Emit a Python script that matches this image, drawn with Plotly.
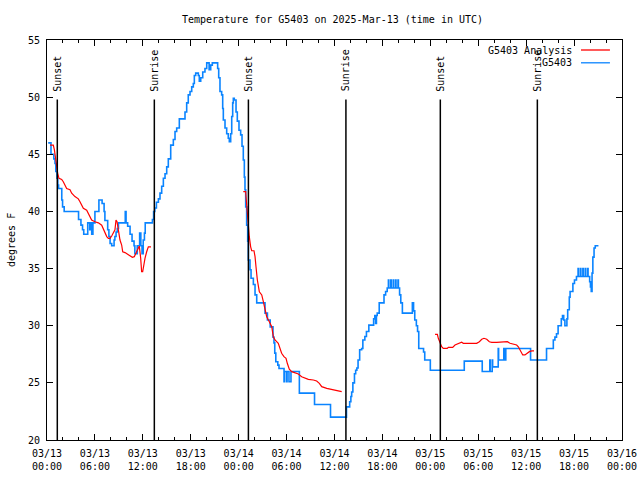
import pandas as pd
import plotly.graph_objects as go

BASE = pd.Timestamp("2025-03-13 00:00")

# G5403 observations: hours since 03/13 00:00 UTC, degrees F
obs_hours = [0.15, 0.5, 0.85, 1.0, 1.1, 1.25, 1.35, 1.45, 1.85, 1.95, 2.15, 3.95, 4.25, 4.45, 4.6, 5.1, 5.35, 5.5, 5.6, 5.75,
             6.0, 6.5, 6.9, 7.15, 7.25, 7.6, 7.75, 7.9, 8.1, 8.4, 8.5, 8.65, 8.8, 8.95, 9.8, 9.9, 10.1, 10.4, 10.65, 10.9,
             11.0, 11.3, 11.6, 11.75, 11.9, 12.05, 12.2, 12.3, 13.2, 13.35, 13.5, 13.7, 13.95, 14.15, 14.36, 14.57, 14.78,
             14.99, 15.19, 15.49, 15.82, 16.03, 16.24, 16.57, 17.28, 17.49, 17.69, 17.91, 18.12, 18.32, 18.45, 18.62,
             18.95, 19.07, 19.25, 19.5, 19.78, 20.0, 20.3, 20.5, 20.7, 21.37, 21.5, 21.66, 21.87, 22.0, 22.08, 22.29,
             22.5, 22.7, 22.83, 23.0, 23.13, 23.25, 23.33, 23.45, 23.67, 23.83, 24.04, 24.25, 24.42, 24.58, 24.71, 24.79,
             24.88, 25.0, 25.13, 25.21, 25.42, 25.55, 25.84, 26.05, 26.26, 27.3, 27.6, 27.95, 28.3, 28.42, 28.52, 28.65,
             28.9, 29.05, 29.68, 29.74, 30.0, 30.06, 30.3, 30.55, 31.6, 33.5, 35.5, 37.5, 37.9, 38.05,
             38.15, 38.3, 38.5, 38.65, 38.8, 38.95, 39.15, 39.4, 39.55, 39.8, 40.0, 40.3, 40.9, 41.05, 41.15, 41.25,
             41.35, 41.6, 42.2, 42.4, 42.6, 42.75, 42.8, 43.05, 43.1, 43.35, 43.4, 43.65, 43.7, 43.95, 44.0,
             44.15, 44.3, 44.5, 45.75, 45.9, 46.05, 46.25, 46.4, 46.55, 47.15, 47.3, 48.0, 52.25, 54.5, 55.45,
             55.5, 55.75, 55.8, 56.5, 56.55, 57.2, 57.25, 57.45, 60.55, 62.55, 63.4, 63.6, 63.8, 64.0, 64.4,
             64.55, 64.7, 64.85, 65.1, 65.2, 65.4, 65.5, 65.85, 66.05, 66.3, 66.5, 66.55, 66.8, 66.85, 67.1, 67.15,
             67.4, 67.45, 67.7, 67.75, 67.95, 68.05, 68.15, 68.25, 68.35, 68.5, 68.65, 69.05]
obs_temps = [46, 45, 44.6, 44.2, 43.5, 42.9, 42.3, 42, 41, 40.4, 40, 39.3, 38.8, 38.4, 38, 39, 38.4, 39, 38, 39,
             40, 41, 40.7, 40, 39.2, 38.4, 37.8, 37.2, 37, 37.5, 37.8, 38.2, 38.5, 39, 40, 39, 38.7, 38, 37.4, 37,
             36.3, 37, 38.1, 37, 36.3, 37.5, 38.1, 39, 39.3, 40, 40.3, 40.8, 41.1, 41.6, 42.2, 42.9, 43.3,
             43.9, 44.6, 45.8, 46.3, 47, 47.3, 48.1, 48.7, 49.5, 50.2, 50.5, 50.9, 51.2, 51.9, 52.1,
             51.9, 51.4, 51.7, 52.2, 52.5, 53, 52.4, 52.8, 53, 52.5, 51.7, 50.5, 50.2, 49, 48, 47.3,
             46.8, 46.4, 46.1, 46.8, 48.3, 49.5, 49.9, 49.75, 48.7, 47.9, 47.1, 46.7, 45.7, 44.5, 43, 41.9,
             40.4, 38.8, 37.4, 35.75, 34.9, 34.15, 33.6, 32.7, 32, 31.1, 30.5, 29.9, 29, 28.5, 27.6, 26.85,
             26.55, 26.25, 25.1, 26, 25.1, 26, 25.1, 26, 24.1, 23.1, 22, 22.9, 23.35, 23.8,
             24.2, 25, 25.8, 26.1, 26.3, 27, 27.9, 28, 28.75, 29.05, 29.5, 30.05, 30.6, 30.9, 30.2, 30.9,
             31.1, 32, 32.7, 33, 33.3, 34, 33.3, 34, 33.3, 34, 33.3, 34, 33.3, 34, 33.3,
             32.7, 32, 31.1, 32, 31.3, 30.5, 30, 29.5, 28, 27.7, 27, 26.1, 26.9, 26, 27,
             26, 27, 26.4, 28, 27, 28, 27, 28, 27, 28, 28.75, 29, 29.3, 30, 30.6,
             30.9, 30.5, 30, 30.6, 31.4, 32.5, 33, 33.7, 34, 34.3, 35, 34.3, 35, 34.3, 35, 34.3,
             35, 34.3, 35, 34.3, 33.85, 33.4, 33, 34.6, 36, 36.8, 37, 37]

# G5403 Analysis: three separate runs (hours since 03/13 00:00 UTC, degrees F)
ana1_hours = [0.38, 0.79, 0.92, 1.09, 1.21, 1.34, 1.5, 1.84, 2.04, 2.25, 2.46, 2.88, 3.09, 3.5, 3.92, 4.13, 4.34, 4.55,
              4.97, 5.17, 5.38, 5.59, 6.0, 6.43, 6.85, 7.05, 7.26, 7.48, 7.68, 7.89, 8.1, 8.3, 8.51, 8.64, 8.77, 8.93,
              9.14, 9.35, 9.48, 9.77, 10.1, 10.39, 10.69, 10.93, 11.1, 11.35, 11.56, 11.73, 11.85, 11.98, 12.15, 12.27,
              12.48, 12.69, 13.02]
ana1_temps = [45.8, 45.8, 45.4, 44.35, 43.9, 43.33, 42.9, 42.8, 42.6, 42.3, 42.0, 41.9, 41.6, 41.3, 41.1, 40.85, 40.56,
              40.27, 40.1, 39.83, 39.54, 39.25, 39.1, 39.0, 38.8, 38.5, 38.1, 37.8, 37.65, 37.65, 37.85, 38.1, 38.4,
              39.25, 39.1, 38.4, 37.5, 37.06, 36.47, 36.4, 36.27, 36.1, 35.98, 36.04, 36.27, 36.6, 36.97, 35.9, 34.72,
              34.72, 35.46, 35.9, 36.47, 36.9, 36.9]
ana2_hours = [24.58, 24.88, 24.92, 25.0, 25.13, 25.2, 25.33, 25.5, 25.63, 25.92, 26.05, 26.17, 26.34, 26.59, 26.89,
              27.09, 27.3, 27.51, 27.84, 28.14, 28.34, 28.55, 28.96, 29.17, 29.38, 29.67, 29.93, 30.09, 30.34, 30.64,
              31.05, 31.47, 31.89, 32.31, 32.72, 33.35, 33.77, 34.1, 34.4, 35.03, 35.65, 36.28, 36.9]
ana2_temps = [41.73, 41.73, 41.3, 40.56, 39.54, 38.66, 37.79, 36.9, 36.56, 36.56, 36.04, 35.16, 34.0, 32.97, 32.69,
              32.1, 31.52, 30.79, 30.35, 29.91, 29.04, 28.75, 28.46, 28.02, 27.59, 27.29, 27.15, 26.71, 26.19, 25.98,
              25.89, 25.77, 25.54, 25.4, 25.31, 25.25, 25.16, 24.96, 24.67, 24.52, 24.43, 24.31, 24.23]
ana3_hours = [48.59, 48.88, 49.0, 49.2, 49.42, 49.62, 50.12, 50.25, 50.8, 51.09, 51.5, 51.92, 52.13, 52.55, 53.8, 54.14,
              54.44, 54.72, 55.06, 55.39, 55.69, 56.31, 57.14, 57.64, 57.98, 58.39, 58.81, 59.02, 59.32, 59.57, 59.85,
              60.14, 60.4, 60.7, 60.98]
ana3_temps = [29.25, 29.25, 28.9, 28.46, 28.16, 28.02, 28.02, 28.11, 28.11, 28.31, 28.46, 28.55, 28.46, 28.46, 28.46,
              28.6, 28.81, 28.9, 28.81, 28.6, 28.55, 28.55, 28.6, 28.6, 28.46, 28.37, 28.31, 28.16, 27.73, 27.44, 27.44,
              27.59, 27.73, 27.79, 27.79]

# Sun events (hours since 03/13 00:00 UTC)
sun_hours = [1.29, 13.44, 25.22, 37.43, 49.25, 61.40]
sun_labels = ["Sunset", "Sunrise", "Sunset", "Sunrise", "Sunset", "Sunrise"]

TITLE = "Temperature for G5403 on 2025-Mar-13 (time in UTC)"
Y_LABEL = "degrees F"
Y_RANGE = [20, 55]
X_RANGE = ["2025-03-13 00:00", "2025-03-16 00:00"]


def to_time(hours):
    return list(BASE + pd.to_timedelta(hours, unit="h"))


ana_x = to_time(ana1_hours) + [None] + to_time(ana2_hours) + [None] + to_time(ana3_hours)
ana_y = ana1_temps + [None] + ana2_temps + [None] + ana3_temps

FONT = "DejaVu Sans Mono"
RED = "#ff0000"
BLUE = "#0a84ff"
TXT = dict(family=FONT, size=10, color="black")

fig = go.Figure()
fig.add_trace(go.Scatter(x=to_time(obs_hours), y=obs_temps, mode="lines", name="G5403",
                         line=dict(color=BLUE, width=1.6, shape="hv"), showlegend=False))
fig.add_trace(go.Scatter(x=ana_x, y=ana_y, mode="lines", name="G5403 Analysis",
                         line=dict(color=RED, width=1.2), connectgaps=False, showlegend=False))

for t, lab in zip(to_time(sun_hours), sun_labels):
    fig.add_shape(type="line", x0=t, x1=t, y0=Y_RANGE[0], y1=49.8, xref="x", yref="y",
                  line=dict(color="black", width=1.5))
    fig.add_annotation(x=t, y=49.8, xref="x", yref="y", text=lab, textangle=-90, showarrow=False,
                       xanchor="center", yanchor="bottom", yshift=6, font=TXT)

# legend drawn top right, text right-aligned and sample line to its right
legend_rows = [("G5403 Analysis", RED, 0.975), ("G5403", BLUE, 0.943)]
for txt, col, yy in legend_rows:
    fig.add_annotation(x=0.9165, y=yy, xref="paper", yref="paper", text=txt, showarrow=False,
                       xanchor="right", yanchor="middle", font=TXT)
    fig.add_shape(type="line", x0=0.9287, x1=0.979, y0=yy, y1=yy, xref="paper", yref="paper",
                  line=dict(color=col, width=1.3))

# title and y-axis label
fig.add_annotation(x=0.497, y=1.051, xref="paper", yref="paper", text=TITLE, showarrow=False,
                   xanchor="center", yanchor="middle", font=TXT)
fig.add_annotation(x=-0.0626, y=0.5, xref="paper", yref="paper", text=Y_LABEL, showarrow=False,
                   textangle=-90, xanchor="center", yanchor="middle", font=TXT)

fig.update_layout(
    width=640, height=480,
    margin=dict(l=47, r=18, t=40, b=40, pad=0, autoexpand=False),
    paper_bgcolor="white", plot_bgcolor="white",
    font=TXT,
    showlegend=False,
)
fig.update_xaxes(type="date", range=X_RANGE, dtick=6 * 3600 * 1000, tick0="2025-03-13 00:00",
                 tickformat="%m/%d<br>%H:%M", ticks="inside", ticklen=6, tickcolor="black",
                 showline=True, linecolor="black", linewidth=1, mirror="allticks", showgrid=False,
                 zeroline=False, tickfont=TXT, automargin=False, ticklabelstandoff=4,
                 minor=dict(dtick=2 * 3600 * 1000, ticks="inside", ticklen=3, tickcolor="black", showgrid=False))
fig.update_yaxes(range=Y_RANGE, dtick=5, ticks="inside", ticklen=6, tickcolor="black",
                 showline=True, linecolor="black", linewidth=1, mirror="allticks", showgrid=False,
                 zeroline=False, tickfont=TXT, automargin=False, ticklabelstandoff=4)

fig.write_html("out.html", config={"displayModeBar": False},
               post_script="document.body.style.margin='0';document.body.style.overflow='hidden';")
